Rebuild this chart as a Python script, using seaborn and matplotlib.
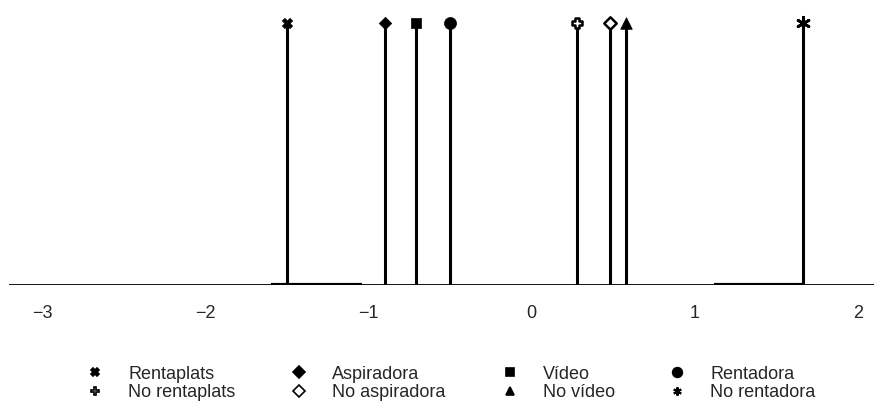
import numpy as np
import pandas as pd
import matplotlib
matplotlib.use('Agg')
import matplotlib.pyplot as plt
import seaborn as sns
from matplotlib.lines import Line2D

# Category positions on the first dimension
labels = ['Rentaplats', 'Aspiradora', 'Vídeo', 'Rentadora',
          'No rentaplats', 'No aspiradora', 'No vídeo', 'No rentadora']
positions = [-1.50, -0.90, -0.71, -0.50, 0.28, 0.48, 0.58, 1.66]
markers = ['X', 'D', 's', 'o', 'P', 'D', '^', (6, 2, 0)]
filled = [True, True, True, True, False, False, True, True]
sizes = [55, 40, 50, 75, 60, 40, 70, 80]
edge_w = [0.5, 0.5, 0.5, 0.5, 1.8, 1.8, 0.5, 2.0]

# Thicker baseline segments (density of observations)
band_start = [-1.60, 1.12]
band_end = [-1.04, 1.66]

tick_vals = [-3, -2, -1, 0, 1, 2]
tick_labels = ['\u22123', '\u22122', '\u22121', '0', '1', '2']

sns.set_style('white')
plt.rcParams['font.family'] = ['Liberation Sans', 'DejaVu Sans']

fig, ax = plt.subplots(figsize=(8.74, 4.05), dpi=100)
fig.subplots_adjust(left=0.01, right=1.0, top=0.97, bottom=0.296)

df = pd.DataFrame({'label': labels, 'x': positions, 'y': 1.0})

ax.axhline(0, color='black', lw=1.3)
ax.hlines([0] * len(band_start), band_start, band_end, color='black', lw=3)
ax.vlines(df['x'], 0, df['y'], color='black', lw=2.2)

for i, row in df.iterrows():
    sub = df.iloc[[i]]
    sns.scatterplot(data=sub, x='x', y='y', ax=ax, marker=markers[i], s=sizes[i],
                    color='black' if filled[i] else 'white',
                    edgecolor='black', linewidth=edge_w[i],
                    zorder=3, legend=False)

ax.set_xlim(-3.204, 2.098)
ax.set_ylim(0, 1.04)
ax.set_xticks(tick_vals)
ax.set_xticklabels(tick_labels, fontsize=13)
ax.tick_params(axis='x', length=0, pad=14)
ax.set_yticks([])
ax.set_xlabel('')
ax.set_ylabel('')
for s in ax.spines.values():
    s.set_visible(False)

# legend: four columns of two entries
col_x = [86 / 874, 290 / 874, 501 / 874, 668 / 874]
for c in range(4):
    hs = []
    for k in (c, c + 4):
        hs.append(Line2D([], [], linestyle='none', marker=markers[k],
                         markersize=6 if k != 3 else 7,
                         markerfacecolor='black' if filled[k] else 'white',
                         markeredgecolor='black',
                         markeredgewidth=1.5 if k == 7 else 1.2))
    fig.legend(hs, [labels[c], labels[c + 4]], loc='center left',
               bbox_to_anchor=(col_x[c], 0.053), frameon=False, fontsize=13,
               handlelength=1.0, handletextpad=1.33, labelspacing=0.1,
               borderpad=0, borderaxespad=0)

fig.savefig('out.png', dpi=100)
